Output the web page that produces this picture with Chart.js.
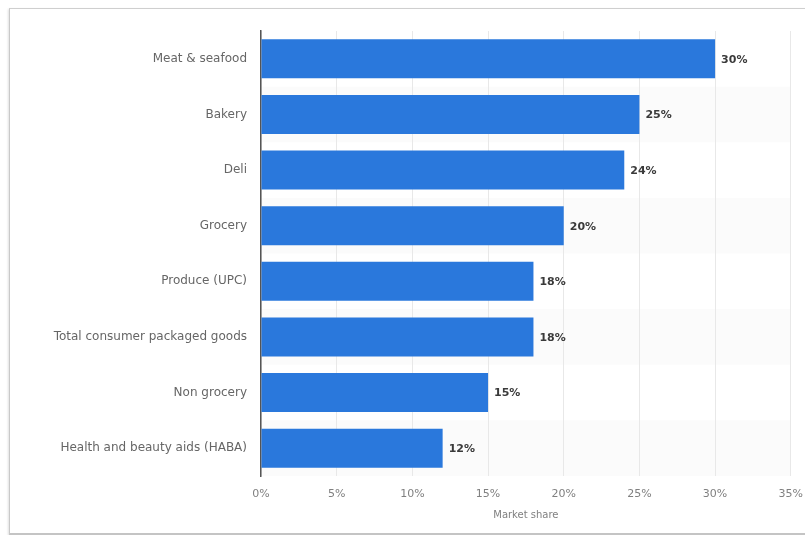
<!DOCTYPE html>
<html>
<head>
<meta charset="utf-8">
<script src="https://cdn.jsdelivr.net/npm/chart.js@4/dist/chart.umd.min.js"></script>
<style>
  html, body { margin: 0; padding: 0; background: #fff; overflow: hidden; }
  #frame {
    position: absolute; left: 9px; top: 8px; width: 820px; height: 524px;
    border-left: 1px solid #c9c9c9; border-top: 1px solid #cfcfcf; border-bottom: 2px solid #c4c4c4;
    box-shadow: -1px 1px 2px rgba(0,0,0,0.12);
  }
  #wrap { position: absolute; left: 0; top: 0; width: 815px; height: 535px; }
</style>
</head>
<body>
<div id="frame"></div>
<div id="wrap"><canvas id="myChart"></canvas></div>
<script>
var categories = ['Meat & seafood', 'Bakery', 'Deli', 'Grocery', 'Produce (UPC)',
    'Total consumer packaged goods', 'Non grocery', 'Health and beauty aids (HABA)'];
var shares = [30, 25, 24, 20, 18, 18, 15, 12];
var xTicks = [0, 5, 10, 15, 20, 25, 30, 35];

// faint stripes behind every other row
var stripes = {
    id: 'stripes',
    beforeDraw: function (chart) {
        var ctx = chart.ctx, area = chart.chartArea, y = chart.scales.y;
        ctx.save();
        ctx.fillStyle = '#fbfbfb';
        categories.forEach(function (c, i) {
            if (i % 2 === 1) {
                var top = y.getPixelForValue(i - 0.5);
                var bot = y.getPixelForValue(i + 0.5);
                ctx.fillRect(area.left, top, area.right - area.left, bot - top);
            }
        });
        ctx.restore();
    }
};

// value labels at the end of each bar
var valueLabels = {
    id: 'valueLabels',
    afterDatasetsDraw: function (chart) {
        var ctx = chart.ctx;
        ctx.save();
        ctx.font = 'bold 11px "DejaVu Sans"';
        ctx.fillStyle = '#3a3a3a';
        ctx.textAlign = 'left';
        ctx.textBaseline = 'middle';
        chart.getDatasetMeta(0).data.forEach(function (bar, i) {
            ctx.fillText(shares[i] + '%', bar.x + 6, bar.y + 1);
        });
        ctx.restore();
    }
};

var ctx = document.getElementById('myChart').getContext('2d');
var myChart = new Chart(ctx, {
    type: 'bar',
    data: {
        labels: categories,
        datasets: [{
            data: shares,
            backgroundColor: '#2a78dc',
            borderWidth: 0,
            categoryPercentage: 1,
            barPercentage: 0.7
        }]
    },
    options: {
        indexAxis: 'y',
        responsive: true,
        maintainAspectRatio: false,
        animation: false,
        layout: { padding: { top: 31, right: 4, left: 0, bottom: 0 } },
        plugins: { legend: { display: false }, tooltip: { enabled: false } },
        scales: {
            x: {
                min: 0, max: 35,
                afterBuildTicks: function (scale) {
                    scale.ticks = xTicks.map(function (v) { return { value: v }; });
                },
                afterFit: function (scale) { scale.height = 59; },
                grid: { color: '#e8e8e8', drawTicks: false },
                border: { display: false },
                ticks: {
                    padding: 12,
                    color: '#808080',
                    font: { family: 'DejaVu Sans', size: 11 },
                    callback: function (v) { return v + '%'; }
                },
                title: {
                    display: true,
                    text: 'Market share',
                    color: '#808080',
                    font: { family: 'DejaVu Sans', size: 10 },
                    padding: { top: 0, bottom: 14 }
                }
            },
            y: {
                afterFit: function (scale) { scale.width = 261; },
                grid: { display: false, drawTicks: false },
                border: { display: true, color: '#555', width: 1.5 },
                ticks: {
                    padding: 14,
                    color: '#666',
                    font: { family: 'DejaVu Sans', size: 12 }
                }
            }
        }
    },
    plugins: [stripes, valueLabels]
});
</script>
</body>
</html>
